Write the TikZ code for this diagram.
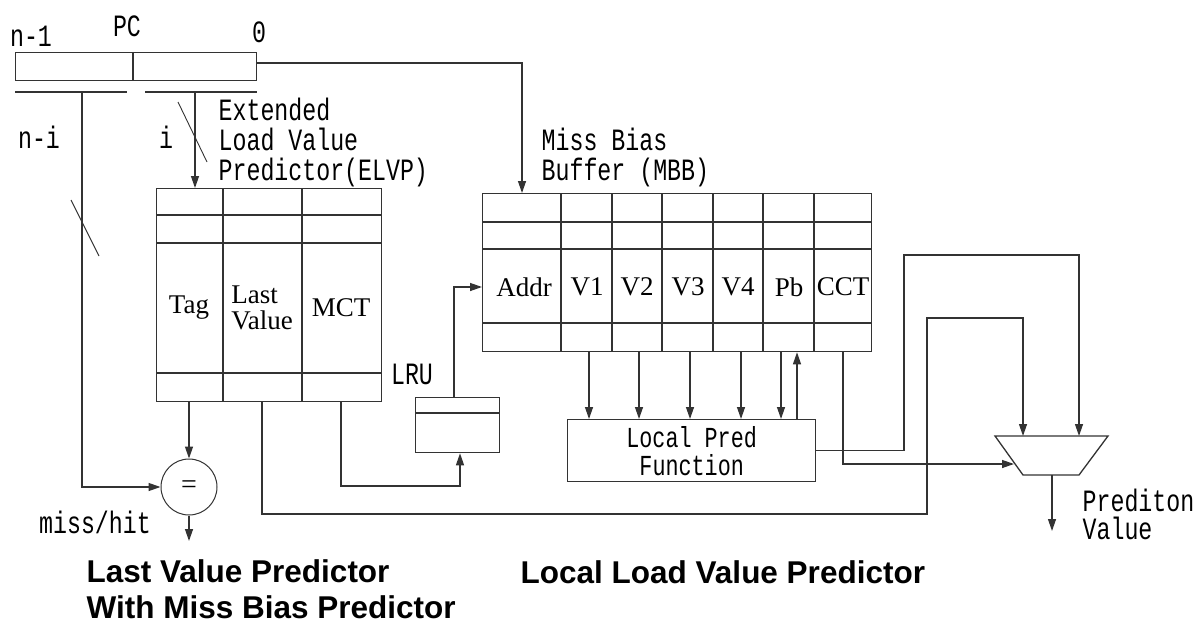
\documentclass[tikz,border=0pt]{standalone}
\usepackage{fontspec}
\setmainfont{Liberation Serif}
\newfontfamily\lblfont[FakeStretch=0.75]{Liberation Mono}
\newfontfamily\headfont{Liberation Sans}
\usetikzlibrary{positioning,arrows.meta}

\begin{document}
\begin{tikzpicture}[x=1pt,y=-1pt,line width=1.3pt,color=black!80,text=black,
  >={Triangle[length=12pt,width=8pt]},
  tbl/.style={draw,anchor=north west,inner sep=0pt},
  lbl/.style={font=\lblfont\fontsize{31}{30}\selectfont,inner sep=0pt},
  field/.style={font=\fontsize{27}{26}\selectfont,inner sep=0pt},
  head/.style={font=\headfont\bfseries\fontsize{31.5}{36}\selectfont,inner sep=0pt,align=left},
  tick/.style={line width=0.9pt}]
\useasboundingbox (0,0) rectangle (1196,623);

% PC register and its two bit fields
\node[tbl,minimum width=241pt,minimum height=28pt] (pc) at (15,52) {};
\draw (pc.north -| 133,0) -- (pc.south -| 133,0);
\node[lbl] (pchi) at (31,36) {n-1};
\node[lbl] (pcname) at (127,26) {PC};
\node[lbl] (pclo) at (259,32) {0};
\draw (15,92) -- (127,92);
\draw (145,92) -- (257,92);
\coordinate (hibus) at (82,92);
\coordinate (lobus) at (195,92);
\coordinate (pcout) at (256,63);
\node[lbl] (nbits) at (39,137) {n-i};
\node[lbl] (ibits) at (166,137) {i};

% ELVP table
\node[lbl,anchor=west,align=left] (elvplbl) at (218,142) {Extended\\Load Value\\Predictor(ELVP)};
\node[tbl,minimum width=225pt,minimum height=213pt] (elvp) at (156,188) {};
\foreach \y in {215,243,373} \draw (elvp.west |- 0,\y) -- (elvp.east |- 0,\y);
\foreach \x in {223,302} \draw (elvp.north -| \x,0) -- (elvp.south -| \x,0);
\node[field] (tag) at (189,308) {Tag};
\node[field,align=left] (lastv) at (262,308) {Last\\Value};
\node[field] (mct) at (341,308) {MCT};

% comparator
\node[draw,circle,minimum size=56pt,inner sep=0pt,line width=1pt,font=\fontsize{28}{28}\selectfont] (eq) at (189,487) {=};
\node[lbl] (misshit) at (95,522) {miss/hit};
\coordinate (hitout) at (189,541);

% LRU
\node[tbl,minimum width=84pt,minimum height=55pt] (lru) at (415,397) {};
\draw (lru.west |- 0,413) -- (lru.east |- 0,413);
\node[lbl] (lrulbl) at (412,374) {LRU};

% MBB table
\node[lbl,anchor=west,align=left] (mbblbl) at (541,157) {Miss Bias\\Buffer (MBB)};
\node[tbl,minimum width=389pt,minimum height=158pt] (mbb) at (482,193) {};
\foreach \y in {222,249,323} \draw (mbb.west |- 0,\y) -- (mbb.east |- 0,\y);
\foreach \x in {561,612,662,713,763,814} \draw (mbb.north -| \x,0) -- (mbb.south -| \x,0);
\node[field] (addr) at (524,287) {Addr};
\node[field] (v1) at (587,287) {V1};
\node[field] (v2) at (637,287) {V2};
\node[field] (v3) at (688,287) {V3};
\node[field] (v4) at (738,287) {V4};
\node[field] (pb) at (789,287) {Pb};
\node[field] (cct) at (843,287) {CCT};

% local prediction function
\node[tbl,lbl,align=center,minimum width=248pt,minimum height=62pt,font=\lblfont\fontsize{29}{28}\selectfont] (lpf) at (567,419) {Local Pred\\Function};

% selector
\coordinate (muxTL) at (995,436);
\coordinate (muxTR) at (1108,436);
\coordinate (muxBR) at (1079,475);
\coordinate (muxBL) at (1023,475);
\draw (muxTL) -- (muxTR) -- (muxBR) -- (muxBL) -- cycle;
\coordinate (muxinA) at (1023,436);
\coordinate (muxinB) at (1079,436);
\coordinate (muxinC) at (1014,464);
\coordinate (muxout) at (1052,475);
\coordinate (predout) at (1052,531);
\node[lbl,anchor=west,align=left,font=\lblfont\fontsize{31}{28}\selectfont] (predlbl) at (1082,514) {Prediton\\Value};

% wires
\draw[->] (hibus) |- (eq.west);
\draw[->] (lobus) -- (lobus |- elvp.north);
\draw[tick] (71,200) -- (99,256);
\draw[tick] (178,102) -- (207,162);
\draw[->] (pcout) -| (mbb.north -| 522,0);
\draw[->] (tag |- elvp.south) -- (eq.north);
\draw[->] (eq.south) -- (hitout);
\draw[->] (lastv |- elvp.south) |- (927,514) |- (1023,318) -- (muxinA);
\draw[->] (mct |- elvp.south) |- (460,486) -- (lru.south -| 460,0);
\draw[->] (lru.north -| 454,0) |- (mbb.west |- addr);
\foreach \x in {589,639,690,741,781} \draw[->] (mbb.south -| \x,0) -- (lpf.north -| \x,0);
\draw[->] (lpf.north -| 797,0) -- (mbb.south -| 797,0);
\draw[->] (cct |- mbb.south) |- (muxinC);
\draw[->] (lpf.east) -| (904,255) -| (muxinB);
\draw[->] (muxout) -- (predout);

% titles
\node[head,anchor=west] (lvptitle) at (86,589) {Last Value Predictor\\With Miss Bias Predictor};
\node[head,anchor=west] (llvptitle) at (520,572) {Local Load Value Predictor};
\end{tikzpicture}
\end{document}
